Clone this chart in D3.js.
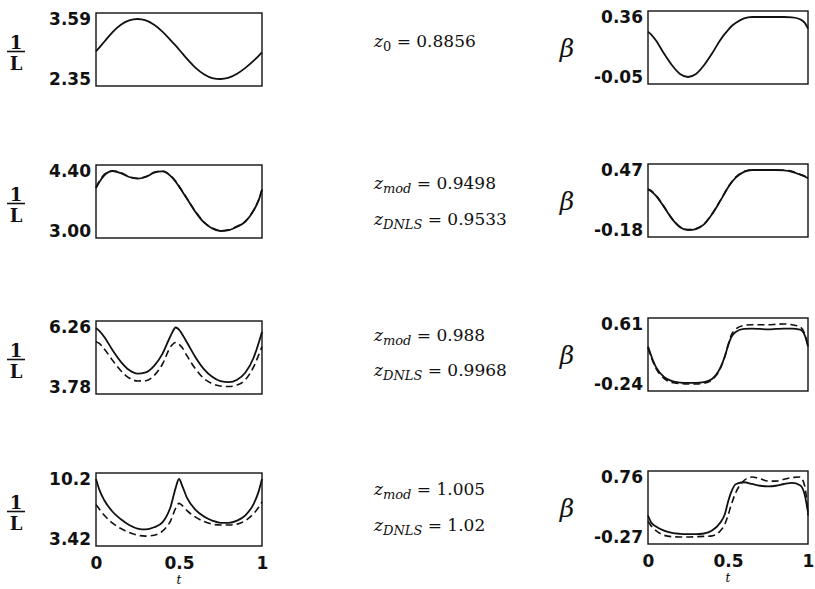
<!DOCTYPE html>
<html lang="en">
<head>
	<meta charset="utf-8">
	<title>1/L and beta over t</title>
	<script src="https://d3js.org/d3.v7.min.js"></script>
	<style type="text/css">
		body { margin: 0; background: #fff; }
		.tick text { font: bold 17px "DejaVu Sans", sans-serif; fill: #111; }
		.zlab { font: 17px "DejaVu Serif", serif; fill: #111; }
	</style>
</head>
<body>
<script type="text/javascript">

// window size
var w = 815;
var h = 589;

// t sample points (same for every curve)
var tVals = [0, 0.02, 0.05, 0.1, 0.15, 0.2, 0.25, 0.3, 0.35, 0.4, 0.45, 0.48, 0.5,
             0.52, 0.55, 0.6, 0.65, 0.7, 0.75, 0.8, 0.85, 0.9, 0.95, 0.98, 1];

// 1/L, solid = model, dashed = DNLS
var invL1  = [2.92, 3.00, 3.12, 3.32, 3.47, 3.56, 3.59, 3.56, 3.47, 3.33, 3.15, 3.04, 2.96,
              2.88, 2.76, 2.58, 2.45, 2.37, 2.35, 2.38, 2.46, 2.58, 2.73, 2.83, 2.90];
var invL2  = [4.00, 4.14, 4.30, 4.40, 4.35, 4.26, 4.22, 4.26, 4.36, 4.39, 4.28, 4.15, 4.04,
              3.92, 3.74, 3.44, 3.20, 3.06, 3.00, 3.02, 3.10, 3.22, 3.48, 3.72, 3.96];
var invL2d = [4.02, 4.16, 4.32, 4.40, 4.36, 4.27, 4.23, 4.27, 4.37, 4.40, 4.29, 4.16, 4.05,
              3.93, 3.75, 3.45, 3.21, 3.07, 3.01, 3.03, 3.11, 3.23, 3.49, 3.73, 3.97];
var invL3  = [6.22, 6.10, 5.85, 5.30, 4.82, 4.48, 4.33, 4.38, 4.65, 5.15, 5.90, 6.24, 6.15,
              5.95, 5.60, 5.00, 4.52, 4.20, 4.02, 3.98, 4.08, 4.38, 5.00, 5.60, 6.06];
var invL3d = [5.65, 5.58, 5.35, 4.88, 4.45, 4.15, 4.03, 4.04, 4.25, 4.72, 5.45, 5.62, 5.55,
              5.40, 5.05, 4.52, 4.13, 3.92, 3.82, 3.80, 3.86, 4.08, 4.62, 5.10, 5.45];
var invL4  = [10.2, 9.0, 7.8, 6.5, 5.65, 5.0, 4.6, 4.5, 4.75, 5.3, 7.1, 9.2, 10.2,
              9.4, 8.0, 6.7, 5.95, 5.5, 5.25, 5.25, 5.5, 6.1, 7.4, 8.8, 10.2];
var invL4d = [7.3, 6.8, 6.1, 5.2, 4.6, 4.15, 3.85, 3.75, 3.85, 4.3, 5.5, 6.9, 7.45,
              7.2, 6.6, 5.9, 5.4, 5.1, 5.0, 5.0, 5.1, 5.5, 6.3, 7.0, 7.6];

// beta, solid = model, dashed = DNLS
var beta1  = [0.26, 0.24, 0.20, 0.11, 0.03, -0.03, -0.05, -0.03, 0.03, 0.11, 0.20, 0.245, 0.27,
              0.295, 0.32, 0.35, 0.36, 0.36, 0.36, 0.36, 0.36, 0.358, 0.345, 0.32, 0.28];
var beta2  = [0.26, 0.24, 0.19, 0.07, -0.06, -0.15, -0.18, -0.17, -0.12, -0.01, 0.13, 0.22, 0.28,
              0.33, 0.39, 0.45, 0.47, 0.47, 0.47, 0.47, 0.465, 0.45, 0.42, 0.40, 0.38];
var beta2d = [0.265, 0.245, 0.195, 0.075, -0.055, -0.145, -0.175, -0.165, -0.115, -0.005, 0.135, 0.225, 0.285,
              0.335, 0.395, 0.455, 0.47, 0.47, 0.47, 0.47, 0.468, 0.455, 0.425, 0.405, 0.385];
var beta3  = [0.29, 0.16, 0.00, -0.14, -0.20, -0.22, -0.225, -0.225, -0.215, -0.17, -0.02, 0.15, 0.30,
              0.42, 0.50, 0.54, 0.545, 0.54, 0.535, 0.54, 0.545, 0.545, 0.53, 0.45, 0.29];
var beta3d = [0.28, 0.14, -0.02, -0.16, -0.22, -0.235, -0.24, -0.24, -0.23, -0.18, -0.03, 0.15, 0.31,
              0.45, 0.54, 0.59, 0.60, 0.60, 0.60, 0.605, 0.61, 0.60, 0.57, 0.47, 0.30];
var beta4  = [0.10, -0.02, -0.09, -0.16, -0.20, -0.215, -0.22, -0.22, -0.21, -0.16, -0.03, 0.12, 0.33,
              0.50, 0.64, 0.67, 0.64, 0.61, 0.60, 0.61, 0.64, 0.66, 0.62, 0.45, 0.15];
var beta4d = [0.00, -0.08, -0.16, -0.24, -0.265, -0.27, -0.27, -0.265, -0.26, -0.25, -0.17, -0.05, 0.10,
              0.28, 0.50, 0.70, 0.76, 0.73, 0.69, 0.69, 0.72, 0.75, 0.76, 0.60, 0.10];

// tick labels (bottom, top) for each row
var leftTicks  = [["2.35", "3.59"], ["3.00", "4.40"], ["3.78", "6.26"], ["3.42", "10.2"]];
var rightTicks = [["-0.05", "0.36"], ["-0.18", "0.47"], ["-0.24", "0.61"], ["-0.27", "0.76"]];
var xTicks = [0, 0.5, 1];

// middle labels per row: [subscript, value]
var zLabels = [
	[["0", "0.8856"]],
	[["mod", "0.9498"], ["DNLS", "0.9533"]],
	[["mod", "0.988"], ["DNLS", "0.9968"]],
	[["mod", "1.005"], ["DNLS", "1.02"]]
];
var zBase = [[47], [189, 225], [341, 376], [495, 531]];

var leftSolid  = [invL1, invL2, invL3, invL4];
var leftDash   = [null, invL2d, invL3d, invL4d];
var rightSolid = [beta1, beta2, beta3, beta4];
var rightDash  = [null, beta2d, beta3d, beta4d];

// panel geometry
var boxH = 73;
var pad = 6;
var leftX = [96, 262];
var rightX = [648, 808];
var leftTop = [13, 165, 321, 473];
var rightTop = [11, 164, 318, 471];

var svg = d3.select("body")
			.append("svg")
			.attr("width", w)
			.attr("height", h)

svg.append("rect").attr("width", w).attr("height", h).attr("fill", "#fff")

function drawPanel(xr, top, ticks, solid, dash, lastRow) {
	var lo = +ticks[0], hi = +ticks[1];
	var xScale = d3.scaleLinear().domain([0, 1]).range(xr);
	var yScale = d3.scaleLinear().domain([lo, hi]).range([top + boxH - pad - 1, top + pad]);

	var line = d3.line()
		.x(function(d, i) { return xScale(tVals[i]); })
		.y(function(d) { return yScale(d); })
		.curve(d3.curveMonotoneX)

	// y axis: only the two end labels
	var yAxis = d3.axisLeft(yScale)
		.tickValues([lo, hi])
		.tickSize(0)
		.tickPadding(5)
		.tickFormat(function(d, i) { return ticks[i]; })
	var gy = svg.append("g")
		.attr("transform", "translate(" + xr[0] + ",0)")
		.call(yAxis)
	gy.select(".domain").remove()

	if (lastRow) {
		var xAxis = d3.axisBottom(xScale)
			.tickValues(xTicks)
			.tickSize(0)
			.tickPadding(11)
			.tickFormat(d3.format("~g"))
		var gx = svg.append("g")
			.attr("transform", "translate(0," + (top + boxH) + ")")
			.call(xAxis)
		gx.select(".domain").remove()

		svg.append("text")
			.attr("x", xScale(0.5))
			.attr("y", top + boxH + 38)
			.attr("text-anchor", "middle")
			.style("font", "italic 12px 'DejaVu Serif', serif")
			.text("t")
	}

	if (dash) {
		svg.append("path")
			.datum(dash)
			.attr("d", line)
			.attr("fill", "none")
			.attr("stroke", "#111")
			.attr("stroke-width", 1.6)
			.attr("stroke-dasharray", "7,4")
	}
	svg.append("path")
		.datum(solid)
		.attr("d", line)
		.attr("fill", "none")
		.attr("stroke", "#111")
		.attr("stroke-width", 1.8)

	// frame
	svg.append("rect")
		.attr("x", xr[0])
		.attr("y", top)
		.attr("width", xr[1] - xr[0])
		.attr("height", boxH)
		.attr("fill", "none")
		.attr("stroke", "#111")
		.attr("stroke-width", 1.4)
}

for (var r = 0; r < 4; r++) {
	drawPanel(leftX, leftTop[r], leftTicks[r], leftSolid[r], leftDash[r], r == 3);
	drawPanel(rightX, rightTop[r], rightTicks[r], rightSolid[r], rightDash[r], r == 3);

	// 1/L label
	var mid = leftTop[r] + boxH / 2 + 2;
	var frac = svg.append("g").style("font", "bold 18px 'DejaVu Serif', serif").attr("fill", "#111")
	frac.append("text").attr("x", 16).attr("y", mid - 3).attr("text-anchor", "middle").text("1")
	frac.append("line").attr("x1", 7).attr("x2", 25).attr("y1", mid).attr("y2", mid)
		.attr("stroke", "#111").attr("stroke-width", 1.6)
	frac.append("text").attr("x", 16).attr("y", mid + 18).attr("text-anchor", "middle").text("L")

	// beta label
	svg.append("text")
		.attr("x", 567)
		.attr("y", rightTop[r] + boxH / 2 + 9)
		.attr("text-anchor", "middle")
		.style("font", "italic 25px 'DejaVu Serif', serif")
		.attr("fill", "#111")
		.text("β")

	// z values
	zLabels[r].forEach(function(z, k) {
		var t = svg.append("text")
			.attr("class", "zlab")
			.attr("x", 374)
			.attr("y", zBase[r][k])
		t.append("tspan").style("font-style", "italic").text("z")
		t.append("tspan")
			.attr("dy", 4)
			.style("font-size", "13px")
			.style("font-style", z[0] == "0" ? "normal" : "italic")
			.text(z[0])
		t.append("tspan").attr("dy", -4).text(" = " + z[1])
	})
}

</script>
</body>
</html>
